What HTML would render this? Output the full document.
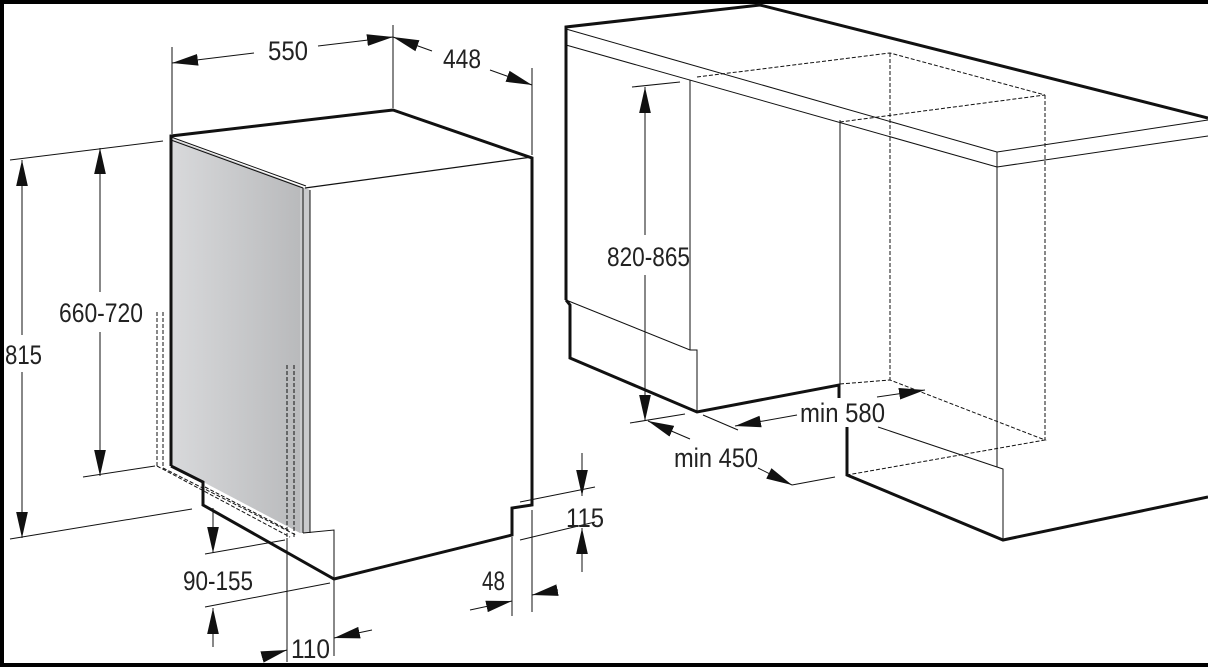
<!DOCTYPE html>
<html><head><meta charset="utf-8"><style>
html,body{margin:0;padding:0;background:#fff;}
svg{display:block}
text{font-family:"Liberation Sans",sans-serif;font-size:27px;fill:#222}
</style></head><body>
<svg width="1208" height="667" viewBox="0 0 1208 667" xmlns="http://www.w3.org/2000/svg">
<defs>
<linearGradient id="g" x1="0" x2="1" y1="0" y2="0"><stop offset="0" stop-color="#d8d9db"/><stop offset="1" stop-color="#b9babc"/></linearGradient>
<marker id="b" viewBox="0 0 20 10" refX="20" refY="5" markerWidth="26" markerHeight="13" orient="auto-start-reverse" markerUnits="userSpaceOnUse"><path d="M0,0.5 L20,5 L0,9.5z" fill="#111"/></marker>
</defs>
<rect width="1208" height="667" fill="#fff"/>
<rect x="0" y="0" width="1208" height="4" fill="#000"/>
<rect x="0" y="0" width="4" height="667" fill="#000"/>
<rect x="0" y="663" width="1208" height="4" fill="#000"/>

<!-- LEFT DISHWASHER -->
<polygon points="171,138 300,186 300,533 171,465" fill="url(#g)"/>
<polygon points="300,186 310,190 310,533 300,533" fill="#c9cacc"/>
<g stroke="#111" fill="none">
<line x1="171" y1="140" x2="303" y2="188" stroke-width="1"/>
<line x1="171" y1="137" x2="306" y2="186" stroke-width="1"/>
<line x1="305" y1="188" x2="532" y2="157" stroke-width="1.2"/>
<line x1="310" y1="190" x2="310" y2="533" stroke-width="1"/>
<line x1="303" y1="188" x2="303" y2="533" stroke-width="1"/>
<polyline points="171,466 171,136 393,110 532,158 532,505 512,508 512,535 334,579 203,505 203,482 171,466" stroke-width="3"/>
<polyline points="303,533 334,530 334,579" stroke-width="1"/>
<g stroke-dasharray="4,2" stroke-width="1">
<line x1="157" y1="312" x2="157" y2="466"/><line x1="163" y1="312" x2="163" y2="466"/>
<line x1="287" y1="365" x2="287" y2="537"/><line x1="294" y1="365" x2="294" y2="537"/>
<line x1="157" y1="466" x2="290" y2="537"/><line x1="163" y1="468" x2="296" y2="535"/>
<line x1="205" y1="487" x2="290" y2="531"/>
</g>
<!-- dims -->
<g stroke-width="1">
<line x1="172" y1="47" x2="172" y2="134"/><line x1="393" y1="25" x2="393" y2="108"/><line x1="532" y1="68" x2="532" y2="155"/>
<line x1="172" y1="63" x2="254" y2="53" marker-start="url(#b)"/><line x1="318" y1="46" x2="393" y2="37" marker-end="url(#b)"/>
<line x1="393" y1="37" x2="432" y2="51" marker-start="url(#b)"/><line x1="490" y1="70" x2="532" y2="85" marker-end="url(#b)"/>
<line x1="10" y1="160" x2="163" y2="141"/><line x1="10" y1="539" x2="192" y2="509"/>
<line x1="22" y1="160" x2="22" y2="335" marker-start="url(#b)"/><line x1="22" y1="372" x2="22" y2="538" marker-end="url(#b)"/>
<line x1="100" y1="148" x2="100" y2="292" marker-start="url(#b)"/><line x1="100" y1="332" x2="100" y2="476" marker-end="url(#b)"/>
<line x1="83" y1="477" x2="155" y2="466"/>
<line x1="213" y1="508" x2="213" y2="553" marker-end="url(#b)"/><line x1="205" y1="554" x2="285" y2="540"/>
<line x1="205" y1="607" x2="330" y2="583"/><line x1="213" y1="647" x2="213" y2="608" marker-end="url(#b)"/>
<line x1="287" y1="538" x2="287" y2="662"/><line x1="334" y1="580" x2="334" y2="656"/>
<line x1="262" y1="657" x2="287" y2="650" marker-end="url(#b)"/><line x1="372" y1="630" x2="334" y2="638" marker-end="url(#b)"/>
<line x1="512" y1="537" x2="512" y2="616"/><line x1="532" y1="510" x2="532" y2="612"/>
<line x1="470" y1="610" x2="512" y2="601" marker-end="url(#b)"/><line x1="558" y1="590" x2="532" y2="595" marker-end="url(#b)"/>
<line x1="520" y1="502" x2="595" y2="487"/><line x1="520" y1="540" x2="595" y2="522"/>
<line x1="582" y1="453" x2="582" y2="496" marker-end="url(#b)"/><line x1="582" y1="572" x2="582" y2="528" marker-end="url(#b)"/>
</g>
</g>
<text x="268" y="60" textLength="40" lengthAdjust="spacingAndGlyphs">550</text>
<text x="443" y="68" textLength="38" lengthAdjust="spacingAndGlyphs">448</text>
<text x="5" y="364" textLength="37" lengthAdjust="spacingAndGlyphs">815</text>
<text x="59" y="322" textLength="84" lengthAdjust="spacingAndGlyphs">660-720</text>
<text x="183" y="590" textLength="70" lengthAdjust="spacingAndGlyphs">90-155</text>
<text x="291" y="658" textLength="39" lengthAdjust="spacingAndGlyphs">110</text>
<text x="482" y="590" textLength="23" lengthAdjust="spacingAndGlyphs">48</text>
<text x="566" y="527" textLength="38" lengthAdjust="spacingAndGlyphs">115</text>

<!-- RIGHT CABINETS -->
<g stroke="#111" fill="none">
<g stroke-width="1">
<line x1="566" y1="29" x2="997" y2="152"/><line x1="566" y1="45" x2="997" y2="167"/>
<line x1="997" y1="152" x2="1208" y2="120"/><line x1="997" y1="167" x2="1208" y2="136"/>
<line x1="997" y1="152" x2="997" y2="467"/>
<line x1="690" y1="80" x2="690" y2="350"/>
<line x1="840" y1="120" x2="840" y2="386"/>
<polyline points="566,300 690,350 697,350 697,412"/>
<polyline points="878,427 997,467 1003,469 1003,540"/>
</g>
<g stroke-width="1" stroke-dasharray="4,2">
<polyline points="697,77 890,53 1045,95 840,122"/>
<line x1="890" y1="53" x2="890" y2="380"/><line x1="1045" y1="95" x2="1045" y2="440"/>
<polyline points="840,384 890,380 1045,440 847,475"/>
</g>
<polyline points="566,300 566,27 760,5 1208,118" stroke-width="3"/>
<polyline points="566,300 570,305 570,358 697,412 839,385 839,398" stroke-width="3"/>
<polyline points="847,427 847,475 1003,540 1208,497" stroke-width="3"/>
<g stroke-width="1">
<line x1="632" y1="87" x2="680" y2="82"/><line x1="630" y1="423" x2="685" y2="414"/>
<line x1="645" y1="87" x2="645" y2="235" marker-start="url(#b)"/><line x1="645" y1="275" x2="645" y2="421" marker-end="url(#b)"/>
<line x1="690" y1="439" x2="648" y2="421" marker-end="url(#b)"/>
<line x1="758" y1="468" x2="792" y2="485" marker-end="url(#b)"/>
<line x1="792" y1="485" x2="835" y2="477"/>
<line x1="703" y1="415" x2="738" y2="430"/>
<line x1="797" y1="415" x2="735" y2="426" marker-end="url(#b)"/>
<line x1="877" y1="397" x2="925" y2="390" marker-end="url(#b)"/>
</g>
</g>
<text x="607" y="266" textLength="83" lengthAdjust="spacingAndGlyphs">820-865</text>
<text x="800" y="422" textLength="85" lengthAdjust="spacingAndGlyphs">min 580</text>
<text x="674" y="467" textLength="84" lengthAdjust="spacingAndGlyphs">min 450</text>
</svg>
</body></html>
